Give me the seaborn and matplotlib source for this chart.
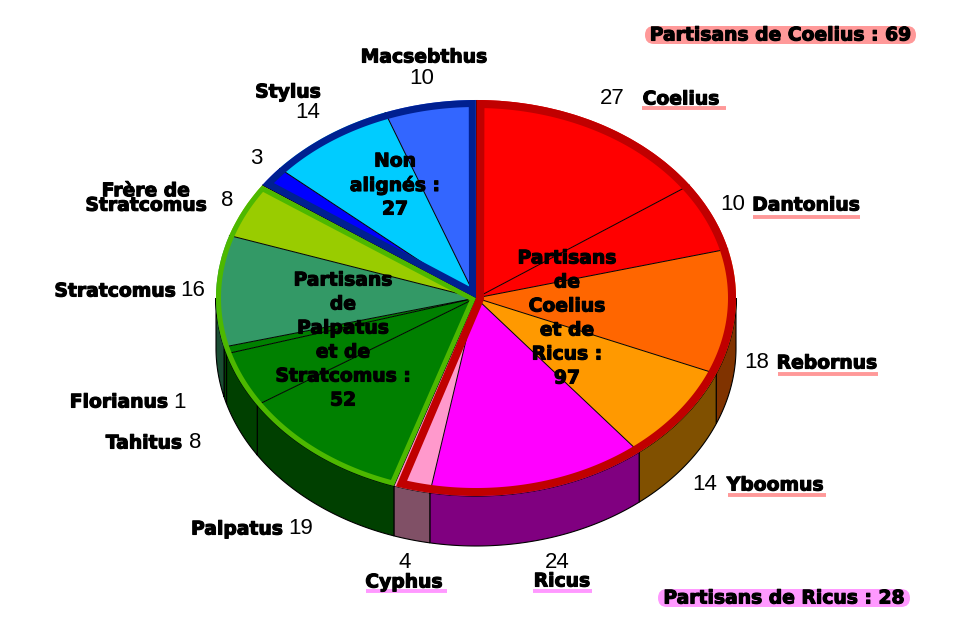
"""
Pie chart with a fake 3D side wall: partisans of Coelius, Ricus, Palpatus, Stratcomus.
"""
import numpy as np
import matplotlib
matplotlib.use("Agg")
import matplotlib.pyplot as plt
import matplotlib.patheffects as pe
from matplotlib.patches import FancyBboxPatch
import seaborn as sns

names = ["Coelius", "Dantonius", "Rebornus", "Yboomus", "Ricus", "Cyphus", "Palpatus",
         "Tahitus", "Florianus", "Stratcomus", "Frère de\nStratcomus", "", "Stylus", "Macsebthus"]
values = [27, 10, 18, 14, 24, 4, 19, 8, 1, 16, 8, 3, 14, 10]
top_colors = ["#FF0000", "#FF0000", "#FF6600", "#FF9900", "#FF00FF", "#FF99CC", "#008000",
              "#008000", "#008000", "#339966", "#99CC00", "#0000FF", "#00CCFF", "#3366FF"]
wall_colors = ["#800000", "#800000", "#803300", "#805000", "#800080", "#805066", "#004000",
               "#004000", "#004000", "#1A4D33", "#4D6600", "#000080", "#006680", "#1A3380"]

group_sizes = [97, 52, 27]
group_colors = ["#C00000", "#4DB800", "#002090"]
group_widths = [8, 5, 7]  # pixels
group_lines = [["Partisans", "de", "Coelius", "et de", "Ricus :", "97"],
               ["Partisans", "de", "Palpatus", "et de", "Stratcomus :", "52"],
               ["Non", "alignés :", "27"]]

pill_texts = ["Partisans de Coelius : 69", "Partisans de Ricus : 28"]
pill_colors = ["#FF9999", "#FF99FF"]

# layout, in pixels of the 962x640 image
CX, CY, RX, RY, DEPTH = 476, 298, 260, 198, 50
name_pos = [(681, 99), (806, 205), (827, 363), (775, 485), (562, 581), (404, 582), (237, 529),
            (144, 443), (119, 402), (115, 291), (146, 198), None, (288, 92), (424, 57)]
value_pos = [(612, 98), (733, 205), (757, 362), (705, 484), (557, 562), (405, 562), (301, 528),
             (195, 442), (180, 402), (193, 291), (227, 201), (256, 159), (308, 113), (422, 79)]
underlines = {"Coelius": (642, 726, 108, "#FF9999"), "Dantonius": (753, 860, 217, "#FF9999"),
              "Rebornus": (778, 878, 374, "#FF9999"), "Yboomus": (728, 826, 495, "#FF9999"),
              "Ricus": (533, 592, 591, "#FF99FF"), "Cyphus": (366, 447, 591, "#FF99FF")}
group_pos = [(567, 258), (343, 280), (395, 161)]
pill_box = [(645, 26, 271, 18), (658, 589, 252, 18)]
LINE_STEP = 24

sns.set_theme(style="white")
plt.rcParams["font.family"] = ["Liberation Sans", "DejaVu Sans"]

fig = plt.figure(figsize=(9.62, 6.4), dpi=100, facecolor="white")
ax = fig.add_axes([0, 0, 1, 1])

# side wall, only the front half of the disc is seen
depth = DEPTH / RY
edges = np.cumsum([0] + values) / sum(values) * 360
for start, stop, color in zip(edges[:-1], edges[1:], wall_colors):
    lo, hi = max(start, 90), min(stop, 270)
    if lo >= hi:
        continue
    th = np.radians(np.linspace(lo, hi, 60))
    x = np.sin(th)
    y = np.cos(th)
    ax.fill(np.r_[x, x[::-1]], np.r_[y, y[::-1] - depth], facecolor=color,
            edgecolor="black", linewidth=0.8)

# top face, thin radial lines between the slices
ax.pie(values, colors=top_colors, startangle=90, counterclock=False, radius=1,
       wedgeprops={"edgecolor": "none"})
for e in np.radians(edges[:-1]):
    ax.plot([0, np.sin(e)], [0, np.cos(e)], color="black", linewidth=0.7)

ax.set_aspect("auto")
ax.set_xlim(-CX / RX, (962 - CX) / RX)
ax.set_ylim(-(640 - CY) / RY, CY / RY)
ax.axis("off")

# everything else goes on a pixel overlay
over = fig.add_axes([0, 0, 1, 1])
over.set_xlim(0, 962)
over.set_ylim(640, 0)
over.axis("off")
over.patch.set_alpha(0)

# group borders: closed stroke running inside of each group wedge
group_edges = np.cumsum([0] + group_sizes) / sum(group_sizes) * 360
for a, b, color, w in zip(group_edges[:-1], group_edges[1:], group_colors, group_widths):
    d = w / 2
    ra, rb = np.radians(a), np.radians(b)
    ua = np.array([RX * np.sin(ra), RY * np.cos(ra)])
    ub = np.array([RX * np.sin(rb), RY * np.cos(rb)])
    ua /= np.linalg.norm(ua)
    ub /= np.linalg.norm(ub)
    # normals pointing into the wedge (clockwise side of a, other side of b)
    na = np.array([ua[1], -ua[0]])
    nb = np.array([-ub[1], ub[0]])
    apex = d * (na + nb) / (1 + na @ nb)
    t = np.radians(np.linspace(a, b, 400))
    arc = np.c_[(RX - d) * np.sin(t), (RY - d) * np.cos(t)]
    first = t < (ra + rb) / 2
    keep = np.where(first, arc @ na >= d, arc @ nb >= d)
    pts = np.vstack([apex, arc[keep]])
    over.fill(CX + pts[:, 0], CY - pts[:, 1], facecolor="none", edgecolor=color,
              linewidth=w * 0.72, joinstyle="miter")

heavy = [pe.withStroke(linewidth=0.8, foreground="black")]


def bold(x, y, s, **kw):
    return over.text(x, y, s, family="DejaVu Sans", fontweight="bold", fontsize=13.5, color="black",
                     ha="center", va="center", path_effects=heavy, **kw)


for name, pos in zip(names, name_pos):
    if pos is not None:
        bold(pos[0], pos[1], name, linespacing=0.7)

for val, pos in zip(values, value_pos):
    over.text(pos[0], pos[1], str(val), fontsize=16, color="black", ha="center", va="center")

for x0, x1, y, color in underlines.values():
    over.plot([x0, x1], [y, y], color=color, linewidth=2.8, solid_capstyle="butt")

for lines, (x, y) in zip(group_lines, group_pos):
    for k, line in enumerate(lines):
        bold(x, y + k * LINE_STEP, line)

for s, color, (x, y, w, h) in zip(pill_texts, pill_colors, pill_box):
    over.add_patch(FancyBboxPatch((x, y), w, h, boxstyle=f"round,pad=0,rounding_size={h / 2}",
                                  facecolor=color, edgecolor="none"))
    bold(x + w / 2, y + h / 2, s)

fig.savefig("out.png", dpi=100)
plt.close(fig)
